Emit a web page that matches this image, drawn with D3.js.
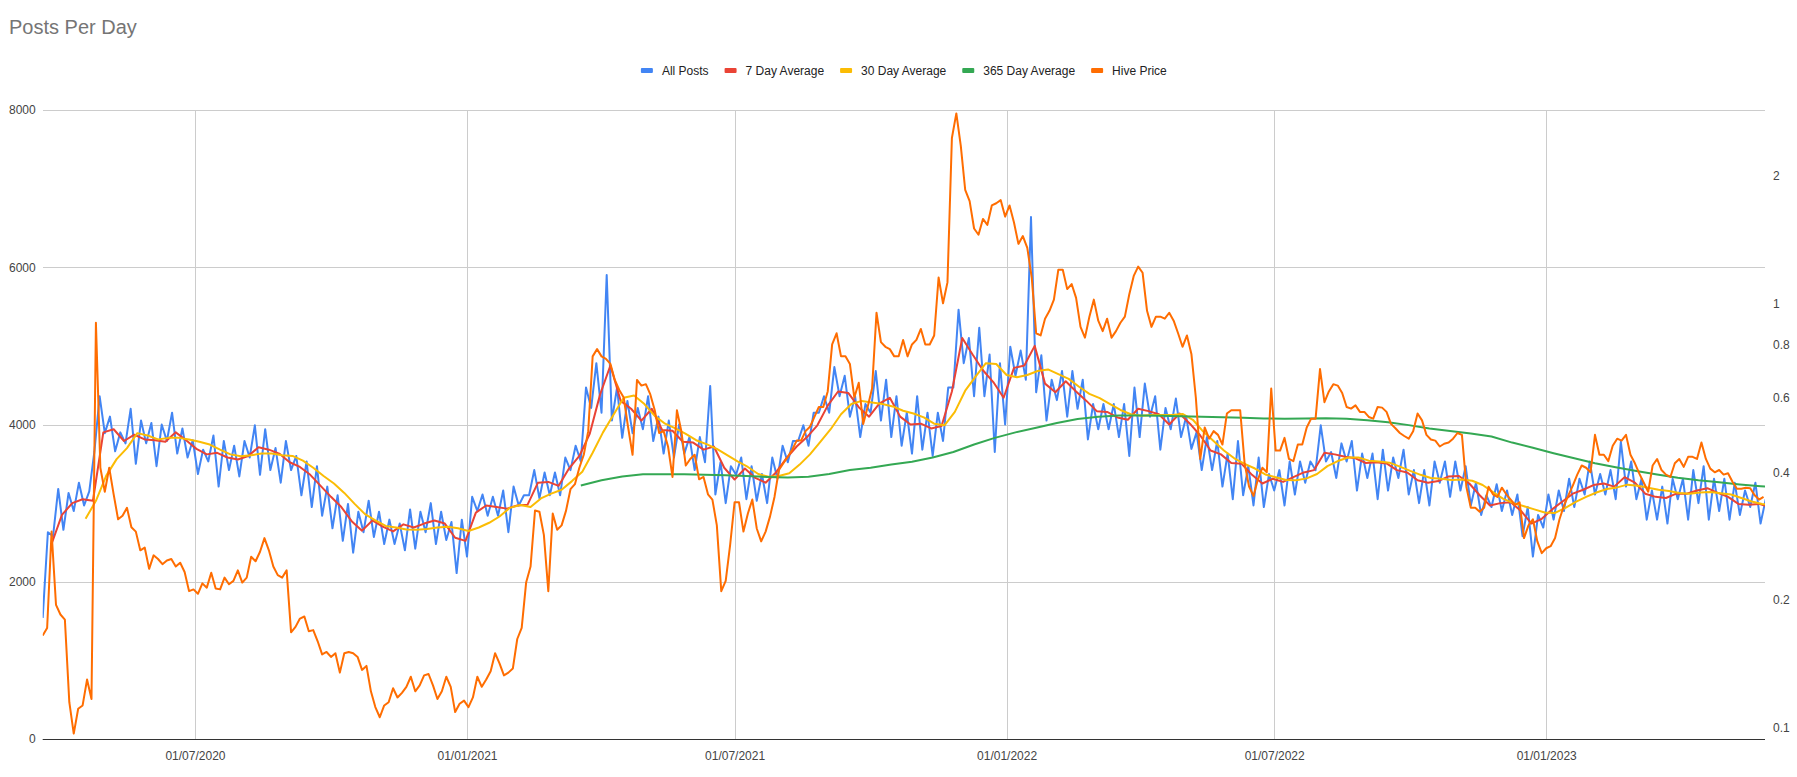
<!DOCTYPE html>
<html>
<head>
<meta charset="utf-8">
<script src="https://d3js.org/d3.v7.min.js"></script>
<style>
  body { margin: 0; background: #fff; }
  text { font-family: "Liberation Sans", Arial, sans-serif; }
</style>
</head>
<body>
<svg width="1797" height="777"></svg>
<script>
// ---- data ----
var START = Date.UTC(2020, 2, 20);   // first day of data
var DAY = 864e5;
var LAST_DAY = 1165;

var seriesNames = ["All Posts", "7 Day Average", "30 Day Average", "365 Day Average", "Hive Price"];
var seriesColors = ["#4285f4", "#ea4335", "#fbbc04", "#34a853", "#ff6d01"];

var xTickDates = ["2020-07-01", "2021-01-01", "2021-07-01", "2022-01-01", "2022-07-01", "2023-01-01"];
var xTickLabels = ["01/07/2020", "01/01/2021", "01/07/2021", "01/01/2022", "01/07/2022", "01/01/2023"];
var leftTicks = [0, 2000, 4000, 6000, 8000];
var rightTicks = [0.1, 0.2, 0.4, 0.6, 0.8, 1, 2];

// posts per day, one value every 3.5 days from day 0
var allPosts = [
  1540,2630, 2580,3180, 2660,3130, 2900,3260, 2970,3150, 3660,4360, 3890,4100, 3660,3900,
  3760,4200, 3500,4050, 3760,4020, 3470,4000, 3790,4150, 3630,3950, 3580,3800, 3370,3680,
  3530,3860, 3210,3790, 3420,3730, 3340,3790, 3580,3990, 3360,3940, 3420,3700, 3260,3790,
  3420,3600, 3100,3530, 2950,3470, 2840,3210, 2680,3100, 2520,2990, 2370,2890, 2630,3030,
  2570,2890, 2480,2790, 2480,2740, 2400,2920, 2420,2890, 2630,3000, 2480,2890, 2530,2760,
  2110,2790, 2320,3080, 2900,3110, 2840,3080, 2840,3160, 2630,3210, 2970,3100, 3100,3420,
  3060,3390, 3100,3390, 3100,3580, 3420,3730, 3530,4470, 4210,4780, 4150,5900, 4050,4470,
  3830,4300, 3890,4210, 3940,4360, 3790,4100, 3630,4050, 3580,4000, 3630,3840, 3420,3840,
  3520,4490, 3110,3520, 3000,3470, 3360,3580, 3050,3470, 3030,3370, 3000,3580, 3310,3730,
  3520,3790, 3790,3990, 3730,4150, 4150,4360, 4150,4730, 4360,4620, 4100,4360, 3840,4260,
  4150,4680, 4050,4570, 3840,4360, 3730,4150, 3630,4360, 3680,4150, 3600,4150, 3790,4470,
  4470,5460, 4780,5100, 4360,5230, 4360,4890, 3650,4780, 4000,4990, 4620,4940, 4570,6640,
  4410,4880, 4050,4570, 4310,4680, 4100,4680, 4200,4570, 3810,4260, 3940,4260, 3940,4260,
  3840,4260, 3600,4470, 3840,4520, 4100,4360, 3680,4210, 3940,4330, 3840,4100, 3690,3900,
  3420,3840, 3420,3790, 3210,3630, 3050,3790, 3100,3470, 2970,3580, 2950,3370, 3160,3420,
  2970,3530, 3110,3530, 3260,3530, 3420,3990, 3530,3650, 3320,3760, 3530,3790, 3160,3630,
  3320,3630, 3050,3680, 3160,3580, 3320,3680, 3110,3420, 3000,3420, 2970,3530, 3260,3530,
  3080,3530, 3160,3470, 2970,3260, 2850,3100, 2950,3240, 2900,3160, 2850,3110, 2580,2950,
  2320,2850, 2690,3110, 2790,3160, 2900,3310, 2950,3310, 3110,3530, 3110,3370, 3110,3420,
  3050,3780, 3210,3530, 3050,3310, 2790,3160, 2790,3210, 2740,3310, 3050,3310, 2790,3420,
  3000,3470, 2790,3310, 2900,3310, 2790,3260, 2850,3160, 2950,3260, 2740,3050
];

// 7 day average, every 7 days from day 6
var avg7 = [
  2480,2850,3000,3050,3030,3900,3940,3790,3870,3810,3800,3780,3900,3800,3690,3620,
  3640,3580,3555,3600,3710,3680,3630,3520,3460,3360,3220,3080,2950,2770,2650,2780,
  2700,2640,2730,2690,2740,2780,2740,2560,2520,2880,2970,2950,2930,2970,2980,3260,
  3270,3220,3440,3600,3880,4380,4750,4300,4200,4050,4200,3930,3920,3780,3770,3680,
  3720,3450,3300,3440,3320,3260,3390,3570,3720,3840,3990,4240,4420,4400,4220,4100,
  4270,4340,4100,4000,4010,3950,3980,4420,5100,4890,4690,4540,4340,4720,4750,5000,
  4520,4410,4550,4420,4300,4170,4160,4090,4060,4200,4170,4130,4000,4140,4010,3860,
  3670,3620,3510,3500,3360,3250,3310,3270,3330,3390,3420,3640,3620,3590,3570,3510,
  3520,3505,3420,3390,3290,3260,3280,3340,3345,3250,3100,2970,3000,3010,2900,2740,
  2800,2920,3020,3120,3170,3230,3250,3210,3330,3260,3120,3080,3065,3120,3120,3160,
  3190,3130,3080,2990,2980,2990,2950
];

// 30 day average, every 7 days from day 29
var avg30 = [
  2800,3030,3350,3560,3700,3890,3860,3810,3830,3830,3810,3780,3745,3680,3620,3595,
  3610,3630,3630,3610,3600,3540,3450,3345,3250,3130,2990,2860,2780,2710,2690,2665,
  2660,2670,2690,2700,2680,2645,2690,2750,2830,2940,2975,2950,3060,3120,3170,3280,
  3400,3640,3900,4120,4340,4370,4260,4110,4010,3950,3880,3800,3750,3690,3610,3530,
  3460,3370,3335,3345,3380,3490,3620,3780,3940,4130,4260,4300,4280,4260,4230,4175,
  4140,4090,4010,3990,4160,4430,4610,4780,4770,4630,4600,4630,4680,4700,4640,4580,
  4480,4390,4335,4260,4185,4130,4110,4120,4120,4120,4135,4060,3910,3790,3670,3570,
  3500,3440,3365,3330,3295,3290,3315,3370,3470,3535,3580,3580,3540,3530,3515,3465,
  3410,3360,3320,3310,3295,3300,3285,3230,3140,3055,3000,2960,2920,2880,2875,2940,
  3015,3080,3135,3180,3200,3235,3220,3195,3170,3155,3130,3120,3135,3140,3125,3110,
  3065,3020,2990,2975
];

// 365 day average, every 14 days from day 364
var avg365 = [
  3225,3290,3340,3367,3367,3367,3362,3355,3345,3333,3325,3335,3370,3420,3450,3490,
  3527,3580,3650,3745,3830,3900,3958,4020,4070,4100,4115,4115,4112,4106,4100,4093,
  4085,4076,4074,4075,4078,4072,4055,4030,3992,3950,3918,3885,3848,3770,3705,3635,
  3570,3508,3455,3408,3365,3324,3291,3264,3237,3215,3195
];

// Hive price (USD, right axis), every 3 days from day 0
var hivePrice = [
  0.165,0.172,0.29,0.195,0.185,0.18,0.115,0.097,0.111,0.113,0.13,0.117,0.9,0.41,0.36,0.41,
  0.355,0.31,0.316,0.33,0.297,0.29,0.262,0.266,0.237,0.255,0.25,0.243,0.248,0.25,0.24,0.245,
  0.233,0.21,0.212,0.207,0.219,0.214,0.232,0.213,0.212,0.226,0.218,0.222,0.235,0.22,0.226,0.253,
  0.247,0.26,0.28,0.262,0.24,0.229,0.226,0.235,0.168,0.173,0.181,0.183,0.169,0.17,0.16,0.149,
  0.151,0.147,0.15,0.135,0.15,0.151,0.15,0.147,0.137,0.14,0.122,0.112,0.106,0.113,0.115,0.124,
  0.118,0.121,0.125,0.132,0.122,0.126,0.133,0.134,0.126,0.117,0.122,0.132,0.125,0.109,0.114,0.116,
  0.112,0.118,0.132,0.125,0.13,0.136,0.15,0.142,0.133,0.135,0.138,0.162,0.172,0.22,0.24,0.325,
  0.323,0.285,0.21,0.32,0.293,0.3,0.325,0.365,0.375,0.41,0.44,0.5,0.75,0.78,0.75,0.74,
  0.72,0.66,0.625,0.6,0.51,0.44,0.66,0.64,0.645,0.61,0.56,0.495,0.5,0.46,0.39,0.56,
  0.5,0.415,0.43,0.44,0.385,0.39,0.355,0.345,0.3,0.21,0.222,0.27,0.34,0.34,0.29,0.32,
  0.345,0.295,0.275,0.29,0.315,0.35,0.405,0.42,0.435,0.452,0.475,0.475,0.5,0.512,0.54,0.57,
  0.57,0.62,0.8,0.85,0.75,0.75,0.72,0.6,0.65,0.52,0.57,0.63,0.95,0.81,0.79,0.78,
  0.75,0.75,0.82,0.75,0.8,0.82,0.87,0.8,0.8,0.84,1.15,1.0,1.12,2.45,2.8,2.35,
  1.85,1.74,1.5,1.45,1.58,1.53,1.7,1.72,1.75,1.6,1.7,1.55,1.38,1.44,1.35,1.15,
  0.85,0.84,0.92,0.96,1.02,1.2,1.2,1.08,1.11,1.03,0.88,0.83,0.93,1.02,0.91,0.86,
  0.92,0.83,0.86,0.9,0.93,1.05,1.16,1.22,1.18,0.96,0.88,0.93,0.93,0.92,0.95,0.91,
  0.85,0.79,0.84,0.76,0.6,0.43,0.51,0.48,0.5,0.49,0.465,0.55,0.56,0.56,0.56,0.42,
  0.37,0.352,0.385,0.41,0.4,0.63,0.45,0.45,0.482,0.43,0.425,0.465,0.465,0.51,0.535,0.535,
  0.7,0.585,0.62,0.645,0.64,0.615,0.57,0.565,0.575,0.555,0.555,0.54,0.535,0.57,0.568,0.555,
  0.52,0.508,0.495,0.487,0.48,0.5,0.55,0.53,0.49,0.478,0.475,0.46,0.467,0.47,0.48,0.495,
  0.49,0.37,0.33,0.33,0.323,0.33,0.37,0.355,0.35,0.368,0.355,0.345,0.335,0.34,0.28,0.3,
  0.31,0.275,0.258,0.265,0.268,0.28,0.31,0.334,0.353,0.372,0.395,0.415,0.41,0.4,0.49,0.44,
  0.44,0.425,0.462,0.48,0.475,0.49,0.44,0.42,0.397,0.378,0.36,0.415,0.43,0.405,0.395,0.39,
  0.42,0.43,0.412,0.435,0.435,0.43,0.47,0.43,0.408,0.4,0.405,0.395,0.398,0.38,0.366,0.366,
  0.368,0.367,0.353,0.345,0.35
];

// ---- chart ----
var svg = d3.select("svg"),
    width = +svg.attr("width"),
    height = +svg.attr("height");

var plotL = 42.7, plotR = 1765, plotT = 110, plotB = 739;

var x = d3.scaleUtc()
    .domain([new Date(START), new Date(START + LAST_DAY * DAY)])
    .range([plotL, plotR]);
var yLeft = d3.scaleLinear().domain([0, 8000]).range([plotB, plotT]);
var yRight = d3.scaleLog().domain([0.0942, 2.852]).range([plotB, plotT]);

function toPoints(values, firstDay, step) {
  return values.map(function(v, i) {
    return { date: new Date(START + (firstDay + i * step) * DAY), v: v };
  });
}

svg.append("text")
  .attr("x", 9).attr("y", 34)
  .attr("font-size", 20).attr("fill", "#757575")
  .text("Posts Per Day");

// gridlines
var tickDates = xTickDates.map(function(s) { return new Date(s + "T00:00:00Z"); });

svg.append("g")
  .attr("transform", "translate(" + plotL + ",0)")
  .call(d3.axisLeft(yLeft).tickValues(leftTicks.slice(1)).tickSize(-(plotR - plotL)).tickFormat(""))
  .call(function(g) { g.select(".domain").remove(); })
  .selectAll("line").attr("stroke", "#cccccc").attr("shape-rendering", "crispEdges");

svg.append("g")
  .attr("transform", "translate(0," + plotB + ")")
  .call(d3.axisBottom(x).tickValues(tickDates).tickSize(-(plotB - plotT)).tickFormat(""))
  .call(function(g) { g.select(".domain").remove(); })
  .selectAll("line").attr("stroke", "#cccccc").attr("shape-rendering", "crispEdges");

// axis labels
function styleLabels(g) {
  g.select(".domain").remove();
  g.selectAll("text").attr("font-size", 12).attr("fill", "#444")
    .style("font-family", "Liberation Sans, Arial, sans-serif");
}

svg.append("g")
  .attr("transform", "translate(" + plotL + ",0)")
  .call(d3.axisLeft(yLeft).tickValues(leftTicks).tickFormat(d3.format("d")).tickSize(0).tickPadding(7))
  .call(styleLabels);

svg.append("g")
  .attr("transform", "translate(" + plotR + ",0)")
  .call(d3.axisRight(yRight).tickValues(rightTicks).tickFormat(d3.format("")).tickSize(0).tickPadding(8))
  .call(styleLabels);

svg.append("g")
  .attr("transform", "translate(0," + plotB + ")")
  .call(d3.axisBottom(x).tickValues(tickDates).tickFormat(function(d, i) { return xTickLabels[i]; }).tickSize(0).tickPadding(12))
  .call(styleLabels);

// series
svg.append("clipPath").attr("id", "plot")
  .append("rect").attr("x", plotL).attr("y", plotT - 2).attr("width", plotR - plotL).attr("height", plotB - plotT + 4);

var leftLine = d3.line().x(function(d) { return x(d.date); }).y(function(d) { return yLeft(d.v); });
var rightLine = d3.line().x(function(d) { return x(d.date); }).y(function(d) { return yRight(d.v); });

var series = [
  { pts: toPoints(allPosts, 0, 3.5), line: leftLine },
  { pts: toPoints(avg7, 6, 7), line: leftLine },
  { pts: toPoints(avg30, 29, 7), line: leftLine },
  { pts: toPoints(avg365, 364, 14), line: leftLine },
  { pts: toPoints(hivePrice, 0, 3), line: rightLine }
];

var plot = svg.append("g").attr("clip-path", "url(#plot)");
series.forEach(function(s, i) {
  plot.append("path")
    .attr("d", s.line(s.pts))
    .attr("fill", "none")
    .attr("stroke", seriesColors[i])
    .attr("stroke-width", 2)
    .attr("stroke-linejoin", "round");
});

// baseline
svg.append("line")
  .attr("x1", plotL).attr("x2", plotR)
  .attr("y1", plotB + 0.5).attr("y2", plotB + 0.5)
  .attr("stroke", "#333");

// legend, centred over the plot
var items = svg.append("g").selectAll("g").data(seriesNames).enter().append("g");
items.append("rect")
  .attr("width", 12).attr("height", 5).attr("y", -2.5).attr("rx", 1)
  .attr("fill", function(d, i) { return seriesColors[i]; });
items.append("text")
  .attr("x", 21).attr("y", 4.3)
  .attr("font-size", 12).attr("fill", "#222")
  .text(function(d) { return d; });

var widths = items.nodes().map(function(n) {
  return 21 + d3.select(n).select("text").node().getComputedTextLength();
});
var total = d3.sum(widths) + 16 * (widths.length - 1);
var pos = (plotL + plotR) / 2 - total / 2;
items.attr("transform", function(d, i) {
  var p = pos;
  pos += widths[i] + 16;
  return "translate(" + p + ",70.5)";
});
</script>
</body>
</html>
